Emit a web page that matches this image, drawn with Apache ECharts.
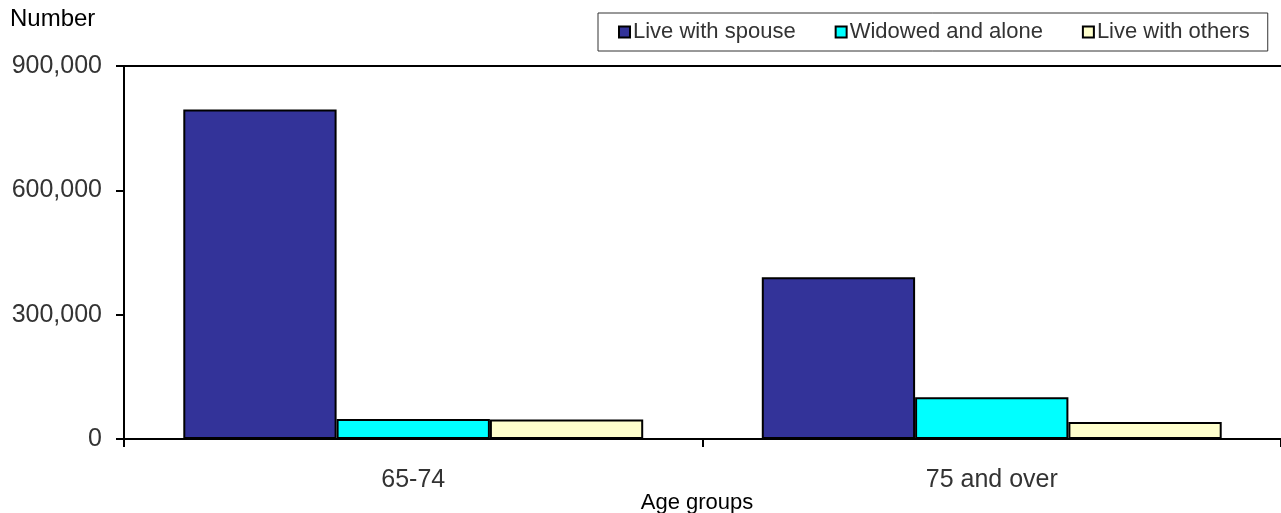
<!DOCTYPE html>
<html>
<head>
<meta charset="utf-8">
<script src="https://cdn.jsdelivr.net/npm/echarts@6/dist/echarts.min.js"></script>
<style>
  html, body { margin: 0; padding: 0; background: #fff; }
  #chart { width: 1281px; height: 513px; }
</style>
</head>
<body>
<div id="chart"></div>
<script>
// Household arrangement of older people, by age group
const categories = ['65-74', '75 and over'];
const liveWithSpouse = [795000, 390000];
const widowedAlone = [48000, 101000];
const liveWithOthers = [47000, 41000];
const yTicks = [0, 300000, 600000, 900000];

const font = 'Liberation Sans, Arial, sans-serif';
const barBorder = { borderColor: '#000', borderWidth: 2 };

const chart = echarts.init(document.getElementById('chart'));
chart.setOption({
  animation: false,
  backgroundColor: '#fff',
  textStyle: { fontFamily: font },
  grid: { left: 124, right: -3, top: 66, bottom: 74, containLabel: false },
  title: [
    { text: 'Number', left: 10, top: 7, padding: 0, textStyle: { fontFamily: font, fontSize: 24, fontWeight: 'normal', color: '#000' } },
    { text: 'Age groups', left: 697, top: 492, padding: 0, textAlign: 'center', textStyle: { fontFamily: font, fontSize: 22, fontWeight: 'normal', color: '#000' } }
  ],
  legend: {
    left: 598, top: 13,
    icon: 'rect',
    itemWidth: 11, itemHeight: 11, itemGap: 39,
    padding: [8, 18, 8, 20],
    borderColor: '#333', borderWidth: 1, backgroundColor: '#fff',
    textStyle: { fontFamily: font, fontSize: 22, color: '#333', padding: [0, 0, 0, -2] },
    itemStyle: { borderColor: '#000', borderWidth: 2 },
    data: ['Live with spouse', 'Widowed and alone', 'Live with others']
  },
  xAxis: [
    {
      type: 'category', data: categories,
      axisLine: { lineStyle: { color: '#000', width: 2 } },
      axisTick: { show: true, length: 8, inside: false, lineStyle: { color: '#000', width: 2 } },
      axisLabel: { fontFamily: font, fontSize: 25, color: '#333', margin: 29 }
    },
    {
      type: 'category', data: categories, position: 'top',
      axisLine: { show: true, lineStyle: { color: '#000', width: 2 } },
      axisTick: { show: false }, axisLabel: { show: false }
    }
  ],
  yAxis: {
    type: 'value', min: yTicks[0], max: yTicks[yTicks.length - 1], interval: 300000,
    axisLine: { show: true, lineStyle: { color: '#000', width: 2 } },
    axisTick: { show: true, length: 8, lineStyle: { color: '#000', width: 2 } },
    splitLine: { show: false },
    axisLabel: {
      fontFamily: font, fontSize: 25, color: '#333', margin: 22,
      formatter: v => v.toLocaleString('en-US')
    }
  },
  series: [
    { name: 'Live with spouse', type: 'bar', data: liveWithSpouse, barGap: '0%', barCategoryGap: '20.5%',
      itemStyle: Object.assign({ color: '#333399' }, barBorder) },
    { name: 'Widowed and alone', type: 'bar', data: widowedAlone, barGap: '0%', barCategoryGap: '20.5%',
      itemStyle: Object.assign({ color: '#00FFFF' }, barBorder) },
    { name: 'Live with others', type: 'bar', data: liveWithOthers, barGap: '0%', barCategoryGap: '20.5%',
      itemStyle: Object.assign({ color: '#FFFFCC' }, barBorder) }
  ]
});
</script>
</body>
</html>
